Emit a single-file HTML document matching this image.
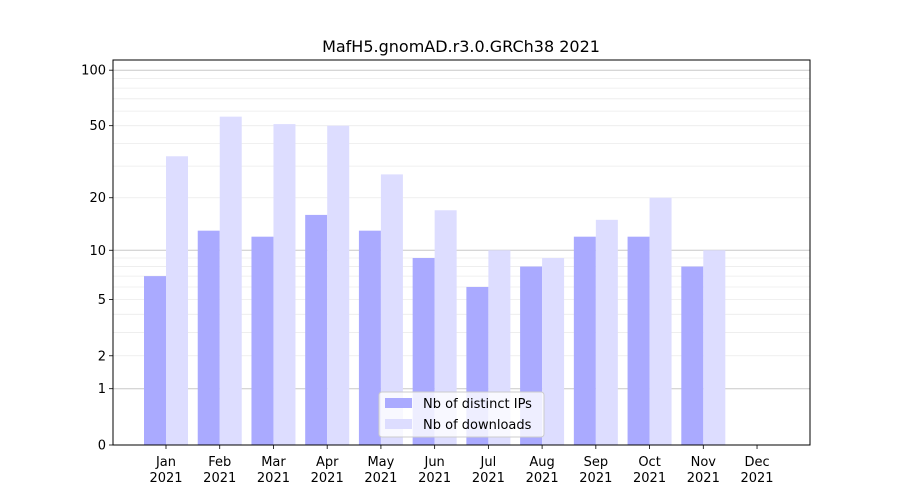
<!DOCTYPE html>
<html><head><meta charset="utf-8"><style>
body{margin:0;background:#fff;font-family:"DejaVu Sans","Liberation Sans",sans-serif}
svg text{font-family:"DejaVu Sans","Liberation Sans",sans-serif}
</style></head><body>
<svg id="chart" width="900" height="500" xmlns="http://www.w3.org/2000/svg"></svg>
<script>
const months=["Jan","Feb","Mar","Apr","May","Jun","Jul","Aug","Sep","Oct","Nov","Dec"];
const ips=[7,13,12,16,13,9,6,8,12,12,8,0];
const downloads=[34,56,51,50,27,17,10,9,15,20,10,0];
const yTicks=[0,1,2,5,10,20,50,100];
const minorTicks=[2,3,4,5,6,7,8,9,20,30,40,50,60,70,80,90];
const majorGrid=[1,10,100];
const NS="http://www.w3.org/2000/svg";
const svg=document.getElementById('chart');
const L=113,R=810,T=60,B=445;
function y(v){return B-187*Math.log10(1+v);}
function xc(i){return 166+i*53.73;}
function el(t,a,txt){const e=document.createElementNS(NS,t);for(const k in a)e.setAttribute(k,a[k]);if(txt!==undefined)e.textContent=txt;svg.appendChild(e);return e;}
minorTicks.forEach(v=>{const g=el('line',{x1:L,x2:R,y1:y(v),y2:y(v),stroke:'#ebebeb','stroke-width':0.8});

});
majorGrid.forEach(v=>{const g=el('line',{x1:L,x2:R,y1:y(v),y2:y(v),stroke:'#c8c8c8','stroke-width':1});

});
const bw=22;
months.forEach((m,i)=>{
 const a=el('rect',{x:xc(i)-bw,y:y(ips[i]),width:bw,height:B-y(ips[i]),fill:'#aaaaff'});
 
 
 const b=el('rect',{x:xc(i),y:y(downloads[i]),width:bw,height:B-y(downloads[i]),fill:'#ddddff'});
 
 
 el('line',{x1:xc(i),x2:xc(i),y1:B,y2:B+4,stroke:'#000','stroke-width':0.8});
 const t1=el('text',{x:xc(i),y:B+21,'font-size':13,'text-anchor':'middle'},m);
 
 
 el('text',{x:xc(i),y:B+37,'font-size':13,'text-anchor':'middle'},'2021');
});
yTicks.forEach(v=>{
 el('line',{x1:L-4,x2:L,y1:y(v),y2:y(v),stroke:'#000','stroke-width':0.8});
 const t=el('text',{x:L-7,y:y(v)+4.5,'font-size':13,'text-anchor':'end'},String(v));
 
 
});
const f=el('rect',{x:L,y:T,width:R-L,height:B-T,fill:'none',stroke:'#000','stroke-width':1});


const ti=el('text',{x:461,y:52,'font-size':16,'text-anchor':'middle'},'MafH5.gnomAD.r3.0.GRCh38 2021');


const lg=el('rect',{x:379,y:392,width:165,height:45,rx:3,fill:'#fff','fill-opacity':0.8,stroke:'#ccc'});


el('rect',{x:385,y:398,width:27,height:10,fill:'#aaaaff'});
const l1=el('text',{x:423,y:408,'font-size':13},'Nb of distinct IPs');


el('rect',{x:385,y:419,width:27,height:10,fill:'#ddddff'});
const l2=el('text',{x:423,y:429,'font-size':13},'Nb of downloads');


</script>
</body></html>
